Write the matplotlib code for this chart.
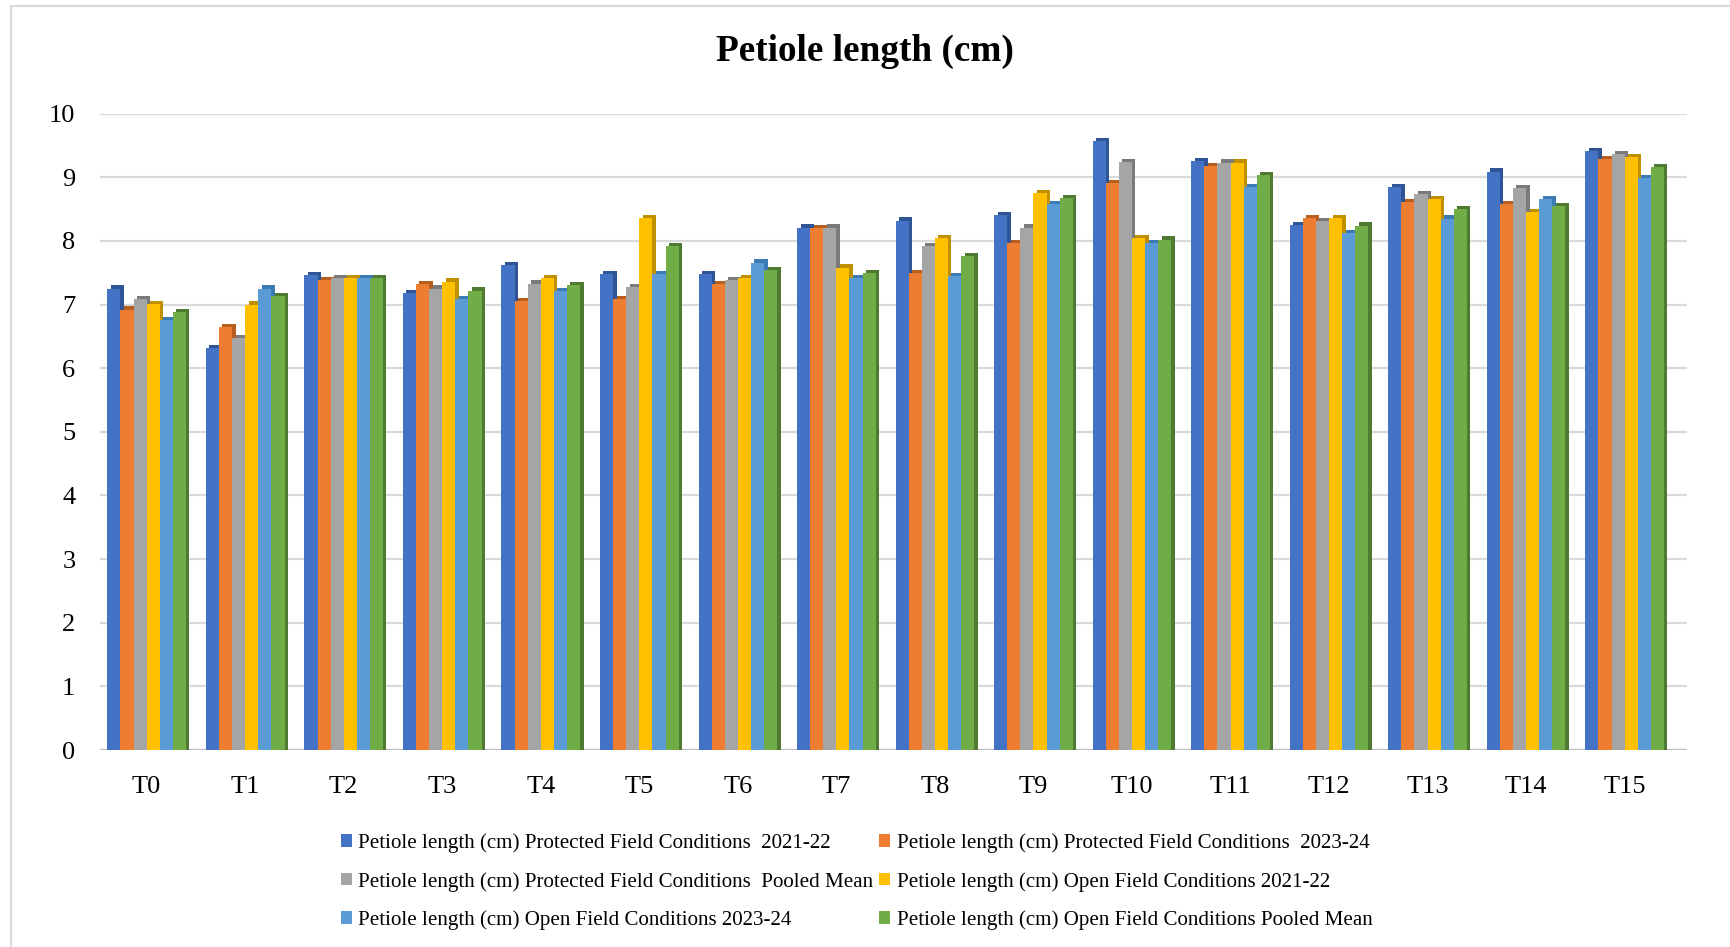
import numpy as np
import matplotlib
matplotlib.use("Agg")
import matplotlib.pyplot as plt
from matplotlib.patches import Patch
from matplotlib.lines import Line2D

plt.rcParams['font.family'] = ['Liberation Serif', 'DejaVu Serif']

# treatments
treatments = ['T0', 'T1', 'T2', 'T3', 'T4', 'T5', 'T6', 'T7',
              'T8', 'T9', 'T10', 'T11', 'T12', 'T13', 'T14', 'T15']

# petiole length values (cm)
prot_2122 = [7.25, 6.31, 7.46, 7.18, 7.62, 7.48, 7.48, 8.21,
             8.32, 8.41, 9.57, 9.25, 8.25, 8.85, 9.09, 9.41]
prot_2324 = [6.92, 6.64, 7.38, 7.32, 7.05, 7.08, 7.32, 8.20,
             7.50, 7.97, 8.91, 9.18, 8.36, 8.61, 8.58, 9.29]
prot_pooled = [7.08, 6.47, 7.42, 7.25, 7.33, 7.27, 7.39, 8.21,
               7.92, 8.21, 9.24, 9.23, 8.31, 8.74, 8.83, 9.36]
open_2122 = [7.01, 7.00, 7.41, 7.36, 7.41, 8.36, 7.41, 7.58,
             8.05, 8.75, 8.05, 9.23, 8.36, 8.66, 8.45, 9.32]
open_2324 = [6.75, 7.25, 7.41, 7.08, 7.21, 7.48, 7.66, 7.41,
             7.45, 8.58, 7.97, 8.84, 8.12, 8.35, 8.66, 8.99]
open_pooled = [6.88, 7.13, 7.41, 7.22, 7.31, 7.92, 7.54, 7.50,
               7.76, 8.67, 8.02, 9.03, 8.24, 8.50, 8.55, 9.16]

series_names = [
    'Petiole length (cm) Protected Field Conditions  2021-22',
    'Petiole length (cm) Protected Field Conditions  2023-24',
    'Petiole length (cm) Protected Field Conditions  Pooled Mean',
    'Petiole length (cm) Open Field Conditions 2021-22',
    'Petiole length (cm) Open Field Conditions 2023-24',
    'Petiole length (cm) Open Field Conditions Pooled Mean',
]
series = [prot_2122, prot_2324, prot_pooled, open_2122, open_2324, open_pooled]
colors = ['#4472C4', '#ED7D31', '#A5A5A5', '#FFC000', '#5B9BD5', '#70AD47']
dark = ['#2F5597', '#B85F1F', '#7A7A7A', '#BF9000', '#3C7AB5', '#4E7A31']

fig = plt.figure(figsize=(17.3, 9.47), dpi=100)
ax = fig.add_axes([0.058, 0.208, 0.917, 0.672])

x = np.arange(len(treatments))
w = 0.133
dx, dy = 0.035, 0.05  # fake 3d depth

for i, vals in enumerate(series):
    pos = x + (i - 2.5) * w
    # side/top face
    ax.bar(pos + dx, np.array(vals) + dy, width=w, color=dark[i], zorder=2 + i * 0.01)
    ax.bar(pos, vals, width=w, color=colors[i], zorder=3 + i * 0.01)

ax.set_ylim(0, 10)
ax.set_xlim(-0.47, 15.63)
ax.set_yticks(range(0, 11))
ax.set_xticks(x)
ax.set_xticklabels(treatments)
ax.yaxis.grid(True, color='#D9D9D9', linewidth=1.6)
ax.set_axisbelow(True)
for s in ax.spines.values():
    s.set_visible(False)
ax.axhline(0, color='#BFBFBF', linewidth=1.6, zorder=1)
ax.tick_params(axis='both', length=0, labelsize=19)
ax.tick_params(axis='y', pad=18)
ax.tick_params(axis='x', pad=19)

fig.suptitle('Petiole length (cm)', fontsize=26.8, fontweight='bold', y=0.946, va='center')

handles = [Patch(facecolor=c) for c in colors]
order = [0, 2, 4, 1, 3, 5]
fig.legend([handles[k] for k in order], [series_names[k] for k in order],
           ncol=2, loc='upper left', bbox_to_anchor=(0.192, 0.129),
           frameon=False, fontsize=15.1, handlelength=0.55, handleheight=0.55,
           handletextpad=0.3, columnspacing=0.25, labelspacing=0.9,
           borderaxespad=0)

# outer chart frame (top and left edges only)
fig.add_artist(Line2D([0.0064, 1.0], [0.9937, 0.9937], transform=fig.transFigure,
                      color='#D9D9D9', linewidth=1.5))
fig.add_artist(Line2D([0.0064, 0.0064], [0.0, 0.9937], transform=fig.transFigure,
                      color='#D9D9D9', linewidth=1.5))

fig.savefig('out.png', dpi=100)
